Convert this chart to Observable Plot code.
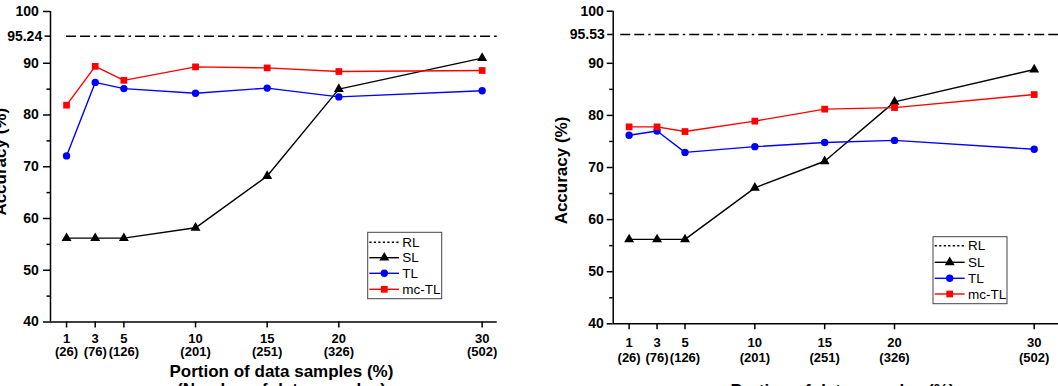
<!DOCTYPE html>
<html>
<head>
<meta charset="utf-8">
<script src="https://cdn.jsdelivr.net/npm/d3@7"></script>
<script src="https://cdn.jsdelivr.net/npm/@observablehq/plot@0.6"></script>
<style>
  html, body { margin: 0; padding: 0; background: white; }
  #wrap { position: relative; width: 1058px; height: 386px; overflow: hidden; background: white; }
  #wrap svg { position: absolute; top: 0; max-width: none !important; }
</style>
</head>
<body>
<div id="wrap"></div>
<script>
// ---- data ----
const xs = [1, 3, 5, 10, 15, 20, 30];
const counts = [26, 76, 126, 201, 251, 326, 502];
const seriesNames = ["RL", "SL", "TL", "mc-TL"];
const seriesColors = ["black", "black", "#0000ff", "#ff0000"];
const seriesSymbols = [null, "triangle", "circle", "square"];

const leftRL = 95.24;
const leftSL = [56.2, 56.2, 56.2, 58.2, 68.2, 85.0, 91.0];
const leftTL = [72.1, 86.3, 85.1, 84.2, 85.2, 83.5, 84.7];
const leftMcTL = [81.9, 89.4, 86.7, 89.3, 89.1, 88.4, 88.6];

const rightRL = 95.53;
const rightSL = [56.2, 56.2, 56.2, 66.1, 71.2, 82.6, 88.8];
const rightTL = [76.2, 77.0, 72.9, 74.0, 74.8, 75.2, 73.5];
const rightMcTL = [77.8, 77.8, 76.9, 78.9, 81.2, 81.5, 84.0];

const yMajor = [40, 50, 60, 70, 80, 90, 100];
const yMinor = [45, 55, 65, 75, 85];
const yTitle = "Accuracy (%)";
const xTitle = "Portion of data samples (%)\n(Number of data samples)";

const FONT = '"Liberation Sans", Arial, Helvetica, sans-serif';
const countOf = new Map(xs.map((x, i) => [x, counts[i]]));

function rows(sl, tl, mc) {
  const out = [];
  [[ "SL", sl ], [ "TL", tl ], [ "mc-TL", mc ]].forEach(([name, vals]) => {
    vals.forEach((v, i) => out.push({ series: name, x: xs[i], y: v }));
  });
  return out;
}

function panel(cfg) {
  const data = rows(cfg.sl, cfg.tl, cfg.mc);
  const marks = [
    Plot.ruleY([cfg.rl], { x1: cfg.rlStart, x2: cfg.xDomain[1], stroke: "black", strokeWidth: 1.5, strokeDasharray: "10,4,10,4,2.5,4" }),
  ];
  ["SL", "TL", "mc-TL"].forEach((name) => {
    const k = seriesNames.indexOf(name);
    const d = data.filter((r) => r.series === name);
    marks.push(Plot.line(d, { x: "x", y: "y", stroke: seriesColors[k], strokeWidth: 1.4 }));
  });
  ["SL", "TL", "mc-TL"].forEach((name) => {
    const k = seriesNames.indexOf(name);
    const d = data.filter((r) => r.series === name);
    const r = name === "SL" ? 3.7 : name === "TL" ? 3.7 : 3.8;
    marks.push(Plot.dot(d, { x: "x", y: "y", fill: seriesColors[k], stroke: "none", symbol: () => seriesSymbols[k], r }));
  });
  marks.push(
    Plot.ruleY([40], { stroke: "black", strokeWidth: 1.5 }),
    Plot.ruleX([cfg.xDomain[0]], { stroke: "black", strokeWidth: 1.5 }),
    // tick marks
    Plot.axisY(yMajor, { anchor: "left", tickSize: cfg.majorTick, strokeWidth: 1.5, label: null, tickFormat: () => "" }),
    Plot.axisY(yMinor, { anchor: "left", tickSize: 3.5, strokeWidth: 1.5, label: null, tickFormat: () => "" }),
    Plot.axisY([cfg.rl], { anchor: "left", tickSize: 5.5, strokeWidth: 1.5, label: null, tickFormat: () => "" }),
    Plot.axisX(xs, { anchor: "bottom", tickSize: 6, strokeWidth: 1.5, label: null, tickFormat: () => "" }),
    // tick labels
    Plot.text(yMajor, { y: (d) => d, frameAnchor: "left", textAnchor: "end", lineAnchor: "middle", dx: cfg.yLabDx, text: (d) => String(d), fontSize: 14, fontWeight: "bold", fill: "black" }),
    Plot.text([cfg.rl], { y: (d) => d, frameAnchor: "left", textAnchor: "end", lineAnchor: "middle", dx: cfg.rlLabDx, text: (d) => d.toFixed(2), fontSize: 14, fontWeight: "bold", fill: "black" }),
    Plot.text(xs, { x: (d) => d, frameAnchor: "bottom", textAnchor: "middle", lineAnchor: "top", dy: cfg.xLabDy, text: (d) => `${d}\n(${countOf.get(d)})`, fontSize: 13, fontWeight: "bold", lineHeight: cfg.tickLH, fill: "black" }),
    // titles
    Plot.text([yTitle], { frameAnchor: "left", textAnchor: "middle", lineAnchor: "middle", rotate: -90, dx: cfg.yTitleDx, dy: cfg.yTitleDy, fontSize: 17, fontWeight: "bold", fill: "black" }),
    Plot.text([xTitle], { frameAnchor: "bottom", textAnchor: "middle", lineAnchor: "top", dx: cfg.xTitleDx, dy: cfg.xTitleDy, fontSize: 17, fontWeight: "bold", lineHeight: 1.08, fill: "black" })
  );
  const svg = Plot.plot({
    width: cfg.width,
    height: 386,
    marginLeft: cfg.ml,
    marginRight: cfg.mr,
    marginTop: cfg.mt,
    marginBottom: cfg.mb,
    x: { domain: cfg.xDomain, label: null },
    y: { domain: [40, 100], label: null },
    style: { fontFamily: FONT, background: "transparent", color: "black", overflow: "visible" },
    marks
  });
  svg.style.left = cfg.left + "px";
  svg.style.width = cfg.width + "px";
  svg.style.height = "386px";
  drawLegend(svg, cfg.legend);
  return svg;
}

function drawLegend(svg, L) {
  const g = d3.select(svg).append("g").attr("font-family", FONT).style("font-size", "13.5px").attr("text-anchor", "start");
  g.append("rect").attr("x", L.x0).attr("y", L.y0).attr("width", L.x1 - L.x0).attr("height", L.y1 - L.y0)
    .attr("fill", "white").attr("stroke", "#444").attr("stroke-width", 1);
  seriesNames.forEach((name, i) => {
    const y = L.ys[i];
    const line = g.append("line").attr("x1", L.lx0).attr("x2", L.lx1).attr("y1", y).attr("y2", y)
      .attr("stroke", seriesColors[i]).attr("stroke-width", 1.4);
    if (name === "RL") line.attr("stroke-dasharray", "2.2,2.3");
    if (seriesSymbols[i]) {
      const sym = { triangle: d3.symbolTriangle, circle: d3.symbolCircle, square: d3.symbolSquare }[seriesSymbols[i]];
      const r = i === 3 ? 3.8 : 3.7;
      g.append("path").attr("d", d3.symbol(sym, r * r * Math.PI)()).attr("transform", `translate(${L.mx},${y})`)
        .attr("fill", seriesColors[i]);
    }
    g.append("text").attr("x", L.tx).attr("y", y).attr("dy", "0.35em").attr("text-anchor", "start").attr("fill", "black").text(name);
  });
}

const wrap = document.getElementById("wrap");
wrap.appendChild(panel({
  left: 0, width: 529, ml: 50, mr: 32.3, mt: 11, mb: 64.5,
  xDomain: [-0.12, 31.05], rl: leftRL, rlStart: 1,
  sl: leftSL, tl: leftTL, mc: leftMcTL,
  majorTick: 7, yLabDx: -11.7, rlLabDx: -8.3, xLabDy: 12.5, tickLH: 0.95,
  yTitleDx: -50, yTitleDy: -5, xTitleDx: 7.6, xTitleDy: 41.5,
  legend: { x0: 367.7, x1: 441.7, y0: 232.3, y1: 298.7, ys: [242.3, 257.7, 273.3, 289.3], lx0: 369.3, lx1: 399, mx: 384.3, tx: 402.3 }
}));
wrap.appendChild(panel({
  left: 529, width: 529, ml: 83.7, mr: 0, mt: 10.7, mb: 62.7,
  xDomain: [-0.14, 31.74], rl: rightRL, rlStart: 0.4,
  sl: rightSL, tl: rightTL, mc: rightMcTL,
  majorTick: 6, yLabDx: -9.4, rlLabDx: -8.4, xLabDy: 12.7, tickLH: 1.14,
  yTitleDx: -51.7, yTitleDy: 3, xTitleDx: 6.6, xTitleDy: 59.4,
  legend: { x0: 404, x1: 478, y0: 236.7, y1: 303.7, ys: [245.7, 262.3, 278.3, 294], lx0: 405.7, lx1: 435.7, mx: 420.7, tx: 439 }
}));
</script>
</body>
</html>
